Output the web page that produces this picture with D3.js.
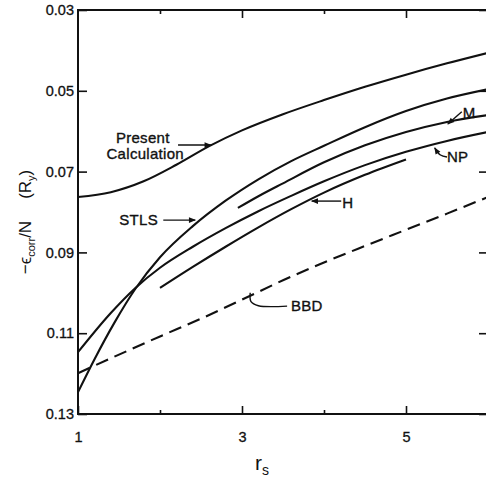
<!DOCTYPE html>
<html>
<head>
<meta charset="utf-8">
<script src="https://cdn.jsdelivr.net/npm/d3@7/dist/d3.min.js"></script>
<style>
  body { margin: 0; background: #fff; }
  svg { display: block; font-family: "Liberation Sans", Arial, sans-serif; }
  .axis text { font-size: 14.5px; fill: #111; stroke: #111; stroke-width: 0.3px; }
  .axis line { stroke: #111; stroke-width: 1.6; }
  .axis path { display: none; }
  .curve { fill: none; stroke: #111; stroke-width: 2.1; }
  .note { font-size: 15px; fill: #111; stroke: #111; stroke-width: 0.35px; letter-spacing: 0.3px; }
</style>
</head>
<body>
<svg class="js-chart"></svg>
<script>
/* values: r_s and -eps_corr/N (Ry) */
var presentR = [1, 1.4, 1.8, 2.2, 2.6, 3.0, 3.5, 4.0, 4.5, 5.0, 5.5, 6.0];
var presentV = [0.0763, 0.0751, 0.0724, 0.0683, 0.0637, 0.0598, 0.0558, 0.0523, 0.0490, 0.0460, 0.0432, 0.0406];

var stlsR = [1, 1.2, 1.45, 1.7, 2.0, 2.4, 2.8, 3.2, 3.6, 4.0, 4.5, 5.0, 5.5, 6.0];
var stlsV = [0.1246, 0.1165, 0.1072, 0.0990, 0.0912, 0.0835, 0.0772, 0.0719, 0.0674, 0.0636, 0.0590, 0.0550, 0.0519, 0.0496];

var npR = [1, 1.4, 1.7, 2.0, 2.4, 2.8, 3.2, 3.6, 4.0, 4.5, 5.0, 5.5, 6.0];
var npV = [0.1147, 0.1050, 0.0988, 0.0938, 0.0886, 0.0840, 0.0798, 0.0760, 0.0724, 0.0684, 0.0651, 0.0624, 0.0602];

var mR = [2.95, 3.2, 3.5, 4.0, 4.5, 5.0, 5.5, 6.0];
var mV = [0.0790, 0.0761, 0.0729, 0.0677, 0.0635, 0.0602, 0.0577, 0.0560];

var hR = [2.0, 2.4, 2.8, 3.2, 3.6, 4.0, 4.5, 5.0];
var hV = [0.0988, 0.0936, 0.0886, 0.0838, 0.0793, 0.0752, 0.0708, 0.0670];

var bbdR = [1, 1.5, 2, 2.5, 3, 3.5, 4, 4.5, 5, 5.5, 6];
var bbdV = [0.1199, 0.1153, 0.1108, 0.1064, 0.1017, 0.0969, 0.0925, 0.0884, 0.0844, 0.0804, 0.0763];

var yTicks = [0.03, 0.05, 0.07, 0.09, 0.11, 0.13];
var xMajor = [1, 3, 5];
var xMinor = [2, 4];

function zip(rs, vs) {
    return rs.map(function (r, i) { return { r: r, v: vs[i] }; });
}

var series = [
    { name: "present", points: zip(presentR, presentV), dashed: false },
    { name: "stls",    points: zip(stlsR, stlsV),       dashed: false },
    { name: "np",      points: zip(npR, npV),           dashed: false },
    { name: "m",       points: zip(mR, mV),             dashed: false },
    { name: "h",       points: zip(hR, hV),             dashed: false },
    { name: "bbd",     points: zip(bbdR, bbdV),         dashed: true }
];

// label text, anchor in data units
var labels = [
    { text: "Present",     r: 1.79, v: 0.0629 },
    { text: "Calculation", r: 1.82, v: 0.0669 },
    { text: "STLS",        r: 1.74, v: 0.0832 },
    { text: "H",           r: 4.29, v: 0.0790 },
    { text: "M",           r: 5.77, v: 0.0567 },
    { text: "NP",          r: 5.63, v: 0.0676 },
    { text: "BBD",         r: 3.79, v: 0.1045 }
];

// pointer lines, in data units (last point gets the arrowhead if head is set)
var pointers = [
    { head: true,  pts: [[2.22, 0.0634], [2.62, 0.0634]] },
    { head: true,  pts: [[2.04, 0.0820], [2.43, 0.0820]] },
    { head: true,  pts: [[4.21, 0.0773], [3.85, 0.0773]] },
    { head: true,  pts: [[5.68, 0.0552], [5.51, 0.0582]] },
    { head: true,  pts: [[5.50, 0.0664], [5.42, 0.0659], [5.35, 0.0641]] },
    { head: false, pts: [[3.10, 0.1000], [3.11, 0.1022], [3.20, 0.1032], [3.55, 0.1033]] }
];

var W = 486, H = 477;
var margin = { top: 10, right: -2, bottom: 63, left: 78 };

var svg = d3.select(".js-chart").attr("width", W).attr("height", H);

var x = d3.scaleLinear().domain([1, 6]).range([margin.left, W - margin.right]);
var y = d3.scaleLinear().domain([0.03, 0.13]).range([margin.top, H - margin.bottom]);

svg.append("defs").append("marker")
    .attr("id", "head")
    .attr("viewBox", "0 0 10 10")
    .attr("refX", 9).attr("refY", 5)
    .attr("markerWidth", 9).attr("markerHeight", 7)
    .attr("markerUnits", "userSpaceOnUse")
    .attr("orient", "auto")
  .append("path")
    .attr("d", "M0,1 L10,5 L0,9 Z")
    .attr("fill", "#111");

// frame
svg.append("rect")
    .attr("x", x(1)).attr("y", y(0.03))
    .attr("width", x(6) - x(1)).attr("height", y(0.13) - y(0.03))
    .attr("fill", "none").attr("stroke", "#111").attr("stroke-width", 2);

// axes, ticks pointing inward
svg.append("g").attr("class", "axis")
    .attr("transform", "translate(" + x(1) + ",0)")
    .call(d3.axisLeft(y).tickValues(yTicks).tickSize(-9).tickPadding(4)
        .tickFormat(function (d) { return d3.format(".2f")(d); }));

svg.append("g").attr("class", "axis")
    .attr("transform", "translate(" + x(6) + ",0)")
    .call(d3.axisRight(y).tickValues(yTicks).tickSize(-9).tickFormat(""));

svg.append("g").attr("class", "axis")
    .attr("transform", "translate(0," + y(0.13) + ")")
    .call(d3.axisBottom(x).tickValues(xMajor).tickSize(-8).tickPadding(18)
        .tickFormat(d3.format("d")));

svg.append("g").attr("class", "axis")
    .attr("transform", "translate(0," + y(0.13) + ")")
    .call(d3.axisBottom(x).tickValues(xMinor).tickSize(-4).tickFormat(""));

svg.append("g").attr("class", "axis")
    .attr("transform", "translate(0," + y(0.03) + ")")
    .call(d3.axisTop(x).tickValues([3, 5]).tickSize(-8).tickFormat(""));

svg.append("g").attr("class", "axis")
    .attr("transform", "translate(0," + y(0.03) + ")")
    .call(d3.axisTop(x).tickValues(xMinor).tickSize(-4).tickFormat(""));

// curves
var line = d3.line()
    .x(function (d) { return x(d.r); })
    .y(function (d) { return y(d.v); })
    .curve(d3.curveMonotoneX);

svg.append("g").selectAll("path").data(series)
    .enter().append("path")
        .attr("class", function (d) { return "curve " + d.name; })
        .attr("d", function (d) { return line(d.points); })
        .attr("stroke-dasharray", function (d) { return d.dashed ? "13,7" : null; });

// annotations
svg.append("g").selectAll("text").data(labels)
    .enter().append("text")
        .attr("class", "note")
        .attr("x", function (d) { return x(d.r); })
        .attr("y", function (d) { return y(d.v); })
        .attr("text-anchor", "middle")
        .text(function (d) { return d.text; });

var pline = d3.line()
    .x(function (d) { return x(d[0]); })
    .y(function (d) { return y(d[1]); })
    .curve(d3.curveCatmullRom.alpha(0.5));

svg.append("g").selectAll("path").data(pointers)
    .enter().append("path")
        .attr("d", function (d) { return pline(d.pts); })
        .attr("fill", "none").attr("stroke", "#111").attr("stroke-width", 1.4)
        .attr("marker-end", function (d) { return d.head ? "url(#head)" : null; });

// axis titles
var xt = svg.append("text")
    .attr("x", 255).attr("y", 470)
    .attr("font-size", 21).attr("fill", "#111");
xt.append("tspan").text("r");
xt.append("tspan").attr("font-size", 14).attr("dy", 5).text("s");

var yt = svg.append("text")
    .attr("transform", "translate(31,222) rotate(-90)")
    .attr("text-anchor", "middle")
    .attr("font-size", 17).attr("fill", "#111");
yt.append("tspan").text("\u2212\u03F5");
yt.append("tspan").attr("font-size", 11).attr("dy", 4).text("corr");
yt.append("tspan").attr("dy", -4).text("/N");
yt.append("tspan").attr("dx", 22).text("(R");
yt.append("tspan").attr("font-size", 11).attr("dy", 4).text("y");
yt.append("tspan").attr("dy", -4).text(")");
</script>
</body>
</html>
